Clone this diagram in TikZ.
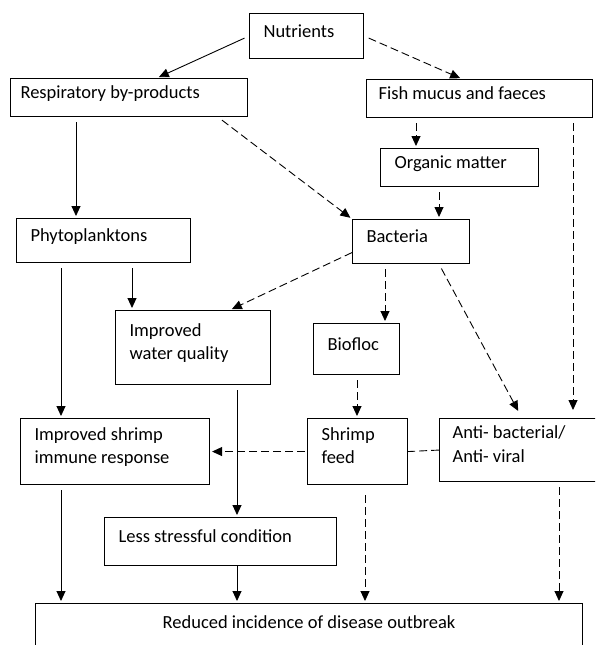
\documentclass[tikz,border=0pt]{standalone}
\usepackage{fontspec}
\setmainfont{Carlito}
\usepackage{tikz}
\usetikzlibrary{arrows.meta}

\begin{document}
\begin{tikzpicture}[x=1pt,y=-1pt,>={Triangle[length=10pt,width=9pt]},shorten >=2pt,shorten <=5pt,line width=0.9pt]
	\tikzstyle{every node}=[font=\fontsize{18.5}{23.5}\selectfont]
	\tikzstyle{box}=[draw=black, line width=1.1pt, anchor=north west, align=flush left, inner xsep=14pt, inner ysep=0pt, text depth=10pt]
	\tikzstyle{twoline}=[text depth=35pt]
	\tikzstyle{dsh}=[dash pattern=on 8pt off 4pt]
	\useasboundingbox (0,0) rectangle (595,645);
	\clip (0,0) rectangle (595,645);
		\node[box, text width=86pt, minimum height=45pt]   (nutr)    at (249,13)  {Nutrients};
		\node[box, inner xsep=10pt, text width=217pt, minimum height=38pt] (resp) at (10,78) {Respiratory by-products};
		\node[box, inner xsep=12pt, text width=202pt, minimum height=38pt] (fish) at (366,79) {Fish mucus and faeces};
		\node[box, text width=130pt, minimum height=38pt]  (org)     at (380,148) {Organic matter};
		\node[box, text width=146pt, minimum height=44pt]  (phyto)   at (16,218)  {Phytoplanktons};
		\node[box, text width=89pt, minimum height=44pt]   (bact)    at (352,219) {Bacteria};
		\node[box, twoline, text width=127pt, minimum height=74pt]  (water)   at (115,310) {Improved\\water quality};
		\node[box, text width=58pt, minimum height=51pt]   (bioflc)  at (313,323) {Biofloc};
		\node[box, twoline, text width=161pt, minimum height=66pt]  (immune)  at (20,418)  {Improved shrimp\\immune response};
		\node[box, twoline, text width=72pt, minimum height=66pt]   (feed)    at (307,418) {Shrimp\\feed};
		\node[box, twoline, inner xsep=13pt, text width=164pt, minimum height=63pt] (anti) at (439,418) {Anti- bacterial/\\Anti- viral};
		\node[box, text width=204pt, minimum height=48pt]  (less)    at (104,517) {Less stressful condition};
		\node[box, align=flush center, inner xsep=0pt, text width=547pt, text height=25pt, text depth=40pt] (reduced) at (35,603) {Reduced incidence of disease outbreak};
	\path
	(nutr.west) edge [->] ([xshift=147pt]resp.north west)
	(nutr.east) edge [->, dsh] ([xshift=96pt]fish.north west)
	([xshift=66pt]resp.south west) edge [->] ([xshift=60pt]phyto.north west)
	([xshift=208pt]resp.south west) edge [->, dsh] (bact.north west)
	([xshift=50pt]fish.south west) edge [->, dsh] ([xshift=36pt]org.north west)
	([xshift=207pt]fish.south west) edge [->, dsh, shorten >=8pt] ([xshift=134pt]anti.north west)
	([xshift=59pt]org.south west) edge [->, dsh] ([xshift=87pt]bact.north west)
	([xshift=45pt]phyto.south west) edge [->] ([xshift=41pt]immune.north west)
	([xshift=116pt]phyto.south west) edge [->] ([xshift=17pt]water.north west)
	([yshift=-11pt]bact.west) edge [->, dsh, shorten <=0pt] ([xshift=115pt]water.north west)
	([xshift=33pt]bact.south west) edge [->, dsh] ([xshift=72pt]bioflc.north west)
	([xshift=87pt]bact.south west) edge [->, dsh, shorten >=8pt] ([xshift=83pt]anti.north west)
	([xshift=44pt]bioflc.south west) edge [->, dsh] ([xshift=50pt]feed.north west)
	([xshift=122pt]water.south west) edge [->] ([xshift=133pt]less.north west)
	(feed.west) edge [->, dsh, shorten <=2pt] (immune.east)
	(anti.west) edge [dsh, shorten <=0pt, shorten >=0pt] (feed.east)
	([xshift=41pt]immune.south west) edge [->] ([xshift=26pt]reduced.north west)
	([xshift=133pt]less.south west) edge [->, shorten <=0pt] ([xshift=202pt]reduced.north west)
	([xshift=58pt]feed.south west) edge [->, dsh, shorten <=10pt] ([xshift=330pt]reduced.north west)
	([xshift=120pt]anti.south west) edge [->, dsh] ([xshift=524pt]reduced.north west);
\end{tikzpicture}
\end{document}
